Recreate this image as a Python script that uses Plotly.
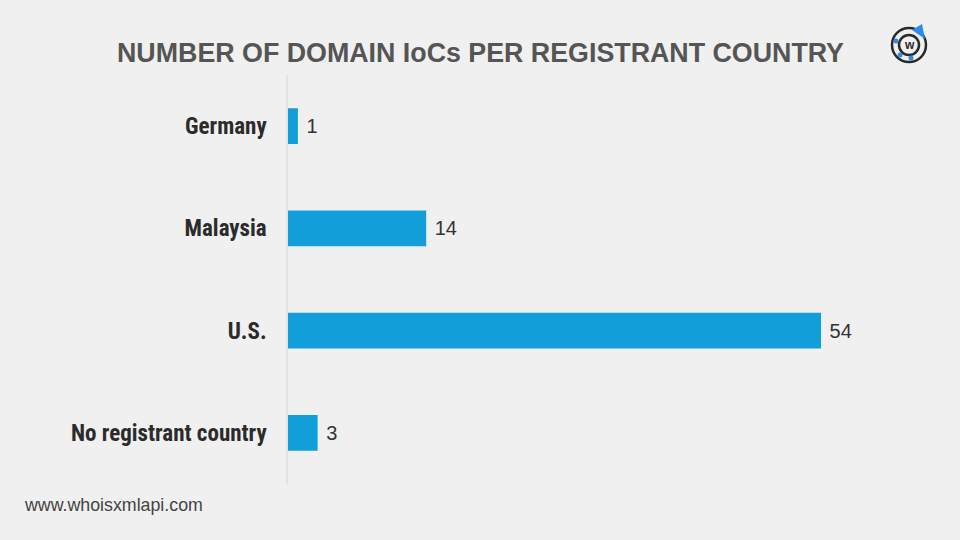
import plotly.graph_objects as go

categories = ["Germany", "Malaysia", "U.S.", "No registrant country"]
values = [1, 14, 54, 3]

BAR = "#129fd9"
BG = "#f0f0f0"

fig = go.Figure(go.Bar(
    x=values, y=categories, orientation="h",
    marker=dict(color=BAR, line=dict(width=0)),
    width=0.35,
    text=[" " + str(v) for v in values], textposition="outside",
    textfont=dict(family="Liberation Sans, Arial, sans-serif", size=20, color="#333333"),
    cliponaxis=False,
    hoverinfo="skip",
))

W, H = 960, 540
ml, mr, mt, mb = 288, 40, 75, 56
fig.update_layout(
    width=W, height=H,
    paper_bgcolor=BG, plot_bgcolor=BG,
    margin=dict(l=ml, r=mr, t=mt, b=mb),
    showlegend=False,
    xaxis=dict(range=[0, 54 * 632 / 533], visible=False, fixedrange=True),
    yaxis=dict(
        categoryorder="array", categoryarray=categories,
        autorange=False, range=[3.5, -0.5], fixedrange=True,
        showline=True, linecolor="#e2e2e2", linewidth=1.5,
        ticks="", showgrid=False, zeroline=False, ticklabelstandoff=15,
        tickfont=dict(family="Roboto Condensed, Liberation Sans Narrow, Arial Narrow, sans-serif",
                      size=23, color="#2b2b2b", weight="bold"),
    ),
    font=dict(family="Liberation Sans, Arial, sans-serif"),
)

def px(x):
    return (x - ml) / (W - ml - mr)
def py(y):
    return 1 - (y - mt) / (H - mt - mb)

fig.add_annotation(
    text="<b>NUMBER OF DOMAIN IoCs PER REGISTRANT COUNTRY</b>",
    xref="paper", yref="paper", x=px(480), y=py(53),
    xanchor="center", yanchor="middle", showarrow=False,
    font=dict(family="Liberation Sans, Arial, sans-serif", size=26.8, color="#555555"),
)
fig.add_annotation(
    text="www.whoisxmlapi.com",
    xref="paper", yref="paper", x=px(22), y=py(505),
    xanchor="left", yanchor="middle", showarrow=False,
    font=dict(family="Liberation Sans, Arial, sans-serif", size=17.8, color="#444444"),
)

# logo
cx, cy = 909, 45
for r, col, w in [(17, "#2a2a2a", 2.5), (10, "#2a2a2a", 2.5)]:
    fig.add_shape(type="circle", xref="paper", yref="paper",
                  x0=px(cx - r), x1=px(cx + r), y0=py(cy + r), y1=py(cy - r),
                  line=dict(color=col, width=w), fillcolor="rgba(0,0,0,0)")
fig.add_shape(type="path", xref="paper", yref="paper",
              path=f"M {px(cx+3)} {py(cy-15)} L {px(cx+13)} {py(cy-21)} L {px(cx+16)} {py(cy-6)} Z",
              fillcolor="#2d8ce8", line=dict(width=0))
for dx, dy in [(-13, -4), (-9, 10), (2, 13)]:
    fig.add_shape(type="circle", xref="paper", yref="paper",
                  x0=px(cx + dx - 2.5), x1=px(cx + dx + 2.5), y0=py(cy + dy + 2.5), y1=py(cy + dy - 2.5),
                  fillcolor="#2d8ce8", line=dict(width=0))
fig.add_annotation(text="<b>w</b>", xref="paper", yref="paper", x=px(cx), y=py(cy),
                   xanchor="center", yanchor="middle",
                   showarrow=False, font=dict(size=12, color="#2a2a2a"))

fig.write_html("out.html", config={"displayModeBar": False},
               post_script="document.body.style.margin='0';document.body.style.overflow='hidden';")
